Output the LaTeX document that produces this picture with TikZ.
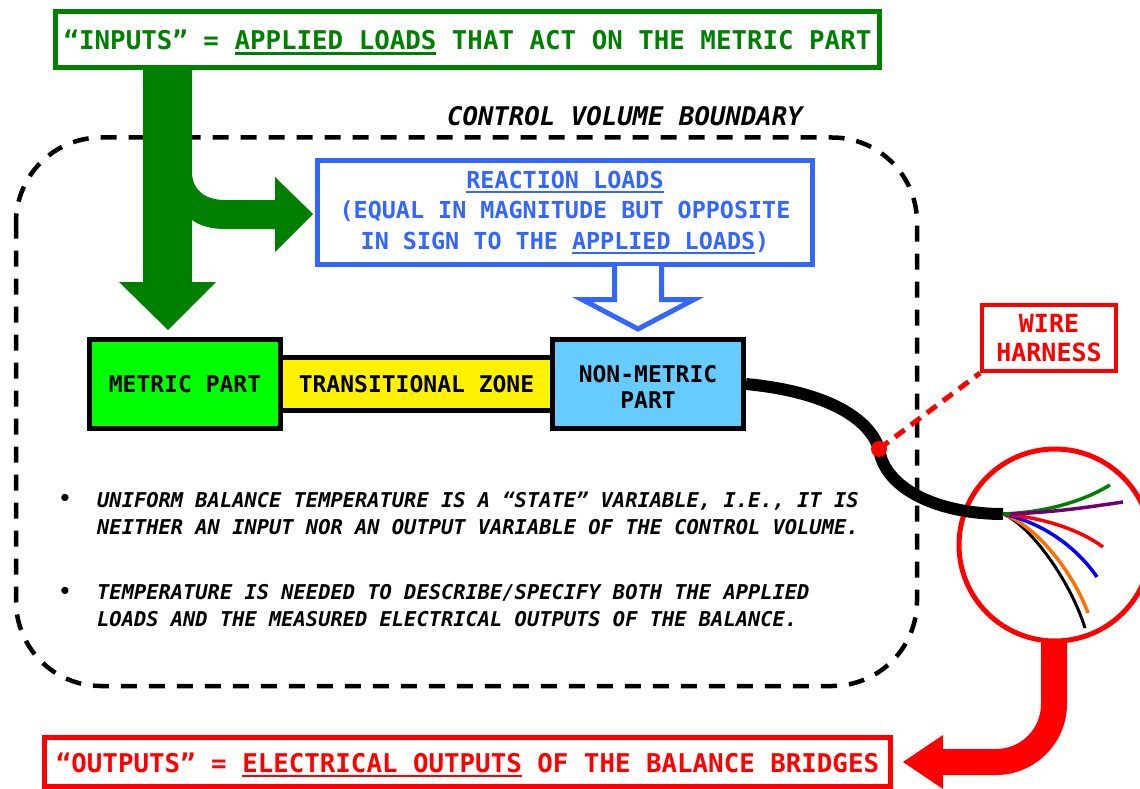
\documentclass[tikz,border=0pt]{standalone}
\usepackage{fontspec}
\setmainfont{DejaVu Sans Mono}[BoldFont={DejaVu Sans Mono Bold},ItalicFont={DejaVu Sans Mono Oblique},BoldItalicFont={DejaVu Sans Mono Bold Oblique}]
\usetikzlibrary{positioning}
\definecolor{loadgreen}{RGB}{0,128,0}
\definecolor{reactblue}{RGB}{51,102,255}
\definecolor{metricgreen}{RGB}{0,255,0}
\definecolor{nonmetricblue}{RGB}{102,204,255}
\definecolor{wirepurple}{RGB}{112,0,112}
\definecolor{wireorange}{RGB}{255,112,0}
\newcommand{\fsz}[2]{\fontsize{#1}{#2}\selectfont\bfseries}
\newsavebox{\undlbox}
\newcommand{\undl}[1]{\sbox{\undlbox}{#1}\rlap{\rule[-5pt]{\wd\undlbox}{2.5pt}}\usebox{\undlbox}}

\begin{document}
\begin{tikzpicture}[x=1pt,y=-1pt,
    part/.style={draw=black,line width=5pt,inner sep=0pt,align=center,font=\fsz{23}{25.5}},
    loadbox/.style={draw=#1,text=#1,line width=5pt,fill=white,inner sep=0pt,align=center},
    note/.style={inner sep=0pt,align=left,anchor=west,font=\fsz{20.4}{27}\itshape},
    wire/.style={line width=3.5pt,draw=#1}]
\useasboundingbox (0,0) rectangle (1140,789);

\draw[line width=4.5pt,dash pattern=on 16pt off 12pt,rounded corners=85pt] (16,137.5) rectangle (917,686);
\node[font=\fsz{25.7}{28}\itshape] (cvlabel) at (625,116) {CONTROL VOLUME BOUNDARY};

\fill[loadgreen] (143,69) -- (143,282) -- (119,282) -- (168,330) -- (216,282) -- (192,282) -- (192,220)
    .. controls (200,226) and (212,229) .. (225,229) -- (275,229) -- (275,252) -- (313,214) -- (275,177) -- (275,200) -- (225,200)
    .. controls (205,200) and (192,190) .. (192,172) -- (192,69) -- cycle;
\node[loadbox=loadgreen,minimum width=824pt,minimum height=56pt,font=\fsz{25.8}{30}] (inputs) at (467.5,39.5)
    {\raisebox{-3pt}[\height][\depth]{“INPUTS” = \undl{APPLIED LOADS} THAT ACT ON THE METRIC PART}};

\node[loadbox=reactblue,minimum width=495pt,minimum height=104pt,font=\fsz{23.4}{30.5}] (reaction) at (565,212.5)
    {\undl{REACTION LOADS}\\(EQUAL IN MAGNITUDE BUT OPPOSITE\\IN SIGN TO THE \undl{APPLIED LOADS})};
\draw[reactblue,line width=5pt,fill=white] (614.5,266) -- (614.5,299.5) -- (582,299.5) -- (638,329) -- (694,299.5) -- (661.5,299.5) -- (661.5,266);

\node[part,fill=metricgreen,minimum width=191pt,minimum height=89pt] (metric) at (185,384) {METRIC PART};
\node[part,fill=yellow,minimum width=272pt,minimum height=53pt,right=-5pt of metric] (transition) {TRANSITIONAL ZONE};
\node[part,fill=nonmetricblue,minimum width=191pt,minimum height=89pt,right=-5pt of transition] (nonmetric) {\rule{0pt}{23pt}NON-METRIC\\PART};

\node[note] (state) at (97,513.5) {UNIFORM BALANCE TEMPERATURE IS A “STATE” VARIABLE, I.E., IT IS\\NEITHER AN INPUT NOR AN OUTPUT VARIABLE OF THE CONTROL VOLUME.};
\node[note] (temp) at (97,606) {TEMPERATURE IS NEEDED TO DESCRIBE/SPECIFY BOTH THE APPLIED\\LOADS AND THE MEASURED ELECTRICAL OUTPUTS OF THE BALANCE.};
\node[font=\fsz{20.4}{27}] (bullet1) at (65,500) {•};
\node[font=\fsz{20.4}{27}] (bullet2) at (65,593) {•};

\node[loadbox=red,line width=4pt,minimum width=134pt,minimum height=66pt,font=\fsz{25}{29}] (harness) at (1049,338) {WIRE\\HARNESS};
\draw[red,line width=5pt] (1055,545) circle (96pt);
\coordinate (tap) at (879,449);
\coordinate (plug) at (1003,514);
\draw[line width=12pt] (nonmetric.east) .. controls (830,392) and (870,420) .. (tap) .. controls (885,490) and (940,514) .. (plug);
\draw[wire=black,line width=3pt] (plug) .. controls (1030,525) and (1070,580) .. (1085,628);
\draw[wire=wireorange] (plug) .. controls (1035,525) and (1072,570) .. (1088,613);
\draw[wire=blue] (plug) .. controls (1040,522) and (1075,545) .. (1097,577);
\draw[wire=red] (plug) .. controls (1045,518) and (1080,530) .. (1103,547);
\draw[wire=loadgreen] (plug) .. controls (1050,512) and (1085,500) .. (1110,485);
\draw[wire=wirepurple] (1010,514) .. controls (1060,512) and (1095,506) .. (1123,502);
\node[circle,fill=red,inner sep=0pt,minimum size=16pt] (tapdot) at (tap) {};
\draw[red,line width=5pt,dash pattern=on 12pt off 8pt] (tapdot.center) -- (harness.south west);

\fill[red] (1041,641) -- (1041,704) .. controls (1041,729) and (1021,749) .. (996,749) -- (943,749) -- (943,735) -- (903,762) -- (943,789)
    -- (943,775) -- (996,775) .. controls (1035,775) and (1067,743) .. (1067,704) -- (1067,641) -- cycle;
\node[loadbox=red,minimum width=846pt,minimum height=49pt,font=\fsz{25.8}{28}] (outputs) at (467.5,762)
    {\raisebox{-3pt}[\height][\depth]{“OUTPUTS” = \undl{ELECTRICAL OUTPUTS} OF THE BALANCE BRIDGES}};
\end{tikzpicture}
\end{document}
